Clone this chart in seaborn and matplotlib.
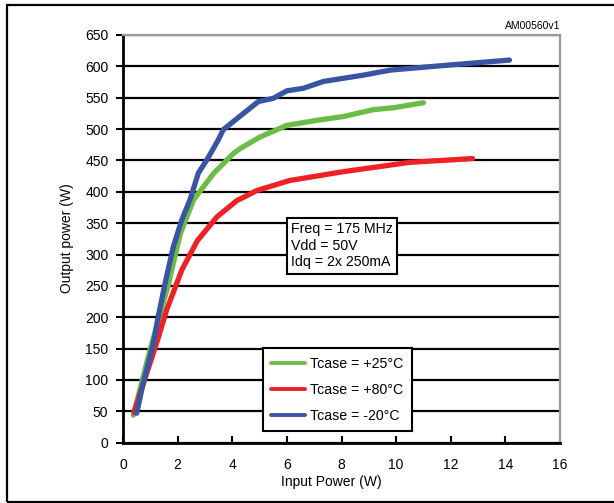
import matplotlib
matplotlib.use("Agg")
import matplotlib.pyplot as plt
from matplotlib.lines import Line2D
from matplotlib.patches import Rectangle
import pandas as pd
import seaborn as sns

# Output power vs input power at three case temperatures
series_labels = ["Tcase = +25°C", "Tcase = +80°C", "Tcase = -20°C"]
series_colors = ["#6cbd45", "#ee2124", "#3a54a4"]

pin_p25 = [0.38, 0.99, 1.65, 2.09, 2.58, 3.31, 4.04, 4.29, 5.0, 6.0, 7.1, 8.07, 9.17, 9.9, 11.0]
pout_p25 = [44, 148, 250, 332, 387, 429, 461, 469, 487, 506, 514, 520, 531, 534, 542]

pin_p80 = [0.40, 0.78, 1.26, 1.6, 2.15, 2.72, 3.44, 4.17, 4.9, 6.1, 8.05, 10.5, 12.8]
pout_p80 = [48, 99, 163, 212, 275, 322, 360, 386, 402, 418, 432, 447, 453]

pin_m20 = [0.50, 0.74, 1.11, 1.29, 1.54, 1.84, 2.15, 2.45, 2.76, 3.07, 3.31, 3.49, 3.67,
           4.41, 4.96, 5.5, 6.0, 6.6, 7.34, 8.8, 9.78, 11.37, 14.15]
pout_m20 = [47, 95, 158, 201, 254, 312, 355, 387, 430, 451, 469, 483, 499,
            525, 544, 549, 561, 565, 576, 586, 594, 600, 610]

x_ticks = list(range(0, 17, 2))
y_ticks = list(range(0, 651, 50))

note_lines = ["Freq = 175 MHz", "Vdd = 50V", "Idq = 2x 250mA"]
x_label = "Input Power (W)"
y_label = "Output power (W)"
doc_ref = "AM00560v1"

sns.set_theme(style="white")
plt.rcParams["font.family"] = ["Liberation Sans", "DejaVu Sans"]
plt.rcParams["font.size"] = 10
for key in ["text.color", "axes.labelcolor", "xtick.color", "ytick.color"]:
    plt.rcParams[key] = "black"

df = pd.concat(
    [pd.DataFrame({"pin": xs, "pout": ys, "series": lab})
     for lab, xs, ys in zip(series_labels,
                            [pin_p25, pin_p80, pin_m20],
                            [pout_p25, pout_p80, pout_m20])],
    ignore_index=True,
)

W, H = 614, 503
fig = plt.figure(figsize=(W / 100, H / 100), dpi=100)
ax = fig.add_axes([123 / W, (H - 442.7) / H, 437 / W, 407.7 / H])

sns.lineplot(
    data=df, x="pin", y="pout", hue="series", hue_order=series_labels,
    palette=dict(zip(series_labels, series_colors)),
    sort=False, estimator=None, linewidth=3.8, legend=False, ax=ax,
    solid_capstyle="round", solid_joinstyle="round",
)

ax.set_xlim(0, 16)
ax.set_ylim(0, 650)
ax.set_xticks(x_ticks)
ax.set_yticks(y_ticks)
ax.set_xticklabels([str(v) for v in x_ticks])
ax.set_yticklabels([str(v) for v in y_ticks])

ax.yaxis.grid(True, color="black", linewidth=1.6)
ax.xaxis.grid(False)
ax.set_axisbelow(True)

for side in ["left", "bottom"]:
    ax.spines[side].set_color("black")
    ax.spines[side].set_linewidth(2.0)
for side in ["top", "right"]:
    ax.spines[side].set_color("#9a9a9a")
    ax.spines[side].set_linewidth(1.6)

ax.tick_params(axis="y", direction="out", length=5, width=1.5, pad=5.5,
               labelsize=10, left=True)
ax.tick_params(axis="x", direction="in", length=5, width=1.5, pad=11,
               labelsize=10, bottom=True)

ax.set_xlabel(x_label, fontsize=10)
ax.set_ylabel(y_label, fontsize=10)
ax.xaxis.set_label_coords(0.476, -0.080)
ax.yaxis.set_label_coords(-0.112, 0.502)

ax.text(0.3844, 0.5416, "\n".join(note_lines), transform=ax.transAxes,
        ha="left", va="top", fontsize=10.2, linespacing=1.25,
        bbox=dict(boxstyle="square,pad=0.3", fc="white", ec="black", lw=1.5),
        zorder=5)

handles = [Line2D([0], [0], color=c, lw=2.8) for c in series_colors]
leg = ax.legend(handles, series_labels, loc="upper left",
                bbox_to_anchor=(0.320, 0.232), borderaxespad=0,
                frameon=True, fancybox=False, edgecolor="black",
                framealpha=1, handlelength=2.4, handletextpad=0.35,
                labelspacing=0.85, borderpad=0.6, fontsize=10.2)
leg.get_frame().set_linewidth(1.5)

fig.text(560 / W, 1 - 26 / H, doc_ref, ha="right", va="center", fontsize=7.5)

fig.add_artist(Rectangle((7 / W, 1 - 501.5 / H), 1.0, (501.5 - 4.5) / H,
                         transform=fig.transFigure, fill=False,
                         edgecolor="black", linewidth=1.6))

fig.savefig("out.png", dpi=100)
